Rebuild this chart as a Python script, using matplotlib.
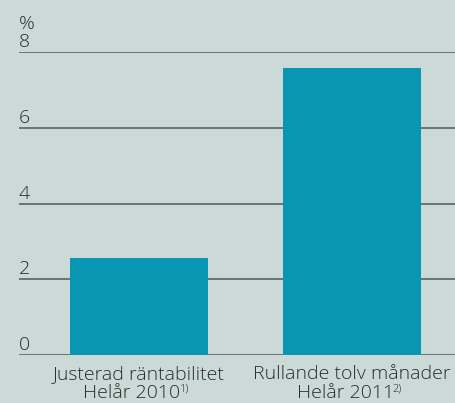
import matplotlib.pyplot as plt
from matplotlib.transforms import blended_transform_factory, offset_copy

line1 = ["Justerad räntabilitet", "Rullande tolv månader"]
line2 = ["Helår 2010", "Helår 2011"]
notes = ["1)", "2)"]
values = [2.56, 7.57]
yticks = [0, 2, 4, 6, 8]

bg = "#cbdad7"
bar_color = "#0896b2"
line_color = "#555555"
text_color = "#2b2b2b"

plt.rcParams["font.family"] = ["Open Sans", "DejaVu Sans"]
plt.rcParams["font.weight"] = "light"

fig = plt.figure(figsize=(4.56, 4.03), dpi=100, facecolor=bg)
ax = fig.add_axes([19 / 456, 1 - 355 / 403, 1 - 19 / 456, (355 - 52) / 403])
ax.set_facecolor(bg)

for y in yticks:
    ax.axhline(y, color=line_color, lw=1.1, zorder=1)

x = list(range(len(values)))
ax.bar(x, values, width=0.648, color=bar_color, zorder=2)

ax.set_xlim(-0.563, 1.488)
ax.set_ylim(0, 8)
for s in ax.spines.values():
    s.set_visible(False)
ax.set_yticks([])
ax.set_xticks([])

trans = blended_transform_factory(ax.transAxes, ax.transData)
for y in yticks:
    ax.text(0, y + 0.02, str(y), transform=trans, ha="left", va="bottom",
            fontsize=14, color=text_color)
ax.text(0, 8.5, "%", transform=trans, ha="left", va="bottom",
        fontsize=14, color=text_color, clip_on=False)

# category labels, two lines, with superscript note markers
xtrans = blended_transform_factory(ax.transData, ax.transAxes)
fig.canvas.draw()
renderer = fig.canvas.get_renderer()
W, H = fig.bbox.width, fig.bbox.height
for i in x:
    t1 = offset_copy(xtrans, fig=fig, x=0, y=-7, units="points")
    ax.text(i, 0, line1[i], transform=t1, ha="center", va="top",
            fontsize=14, color=text_color, clip_on=False)
    t2 = offset_copy(xtrans, fig=fig, x=-5, y=-21, units="points")
    txt = ax.text(i, 0, line2[i], transform=t2, ha="center", va="top",
                  fontsize=14, color=text_color, clip_on=False)
    bb = txt.get_window_extent(renderer)
    fig.text((bb.x1 - 1) / W, (bb.y1 + 1) / H, notes[i],
             ha="left", va="top", fontsize=8, color=text_color)

fig.savefig("out.png", dpi=100, facecolor=bg)
